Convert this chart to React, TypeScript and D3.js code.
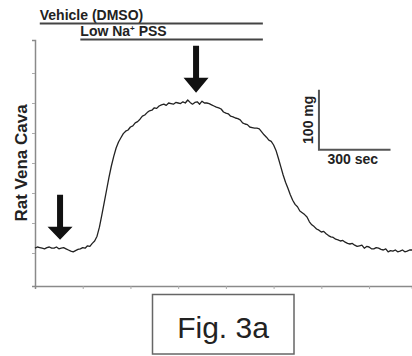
import React from "react";
import { select, scaleLinear, line, axisLeft, axisBottom, range } from "d3";

// time in seconds, tension in mg, every 10 s
const times = range(0, 1581, 10);
const tension = [
  58, 60, 59, 58, 57, 59, 60, 58, 58, 60, 57, 58, 59, 57, 55, 53, 52, 54, 56, 57,
  59, 58, 62, 61, 66, 70, 78, 93, 113, 134, 155, 176, 195, 211, 225, 235, 242, 249, 253, 255,
  260, 262, 267, 269, 273, 278, 280, 284, 287, 288, 292, 291, 295, 297, 298, 296, 300, 299, 298, 301,
  300, 299, 302, 300, 305, 301, 298, 301, 302, 298, 303, 300, 300, 299, 297, 295, 293, 292, 290, 285,
  283, 282, 278, 277, 275, 274, 272, 267, 265, 264, 260, 259, 258, 258, 257, 252, 247, 243, 238, 236,
  230, 221, 208, 194, 180, 168, 158, 147, 138, 131, 127, 120, 117, 114, 110, 102, 97, 94, 90, 88,
  85, 86, 82, 79, 77, 76, 73, 72, 70, 71, 68, 66, 65, 66, 63, 61, 62, 63, 58, 61,
  60, 57, 57, 59, 58, 56, 55, 57, 52, 54, 53, 55, 52, 53, 55, 52, 53, 55, 55,
];

const xTicks = [200, 400, 600, 800, 1000, 1200, 1400];
const yTicks = [50, 100, 150, 200, 250, 300, 350];

const treatments = [
  { label: "Vehicle (DMSO)", start: 20, end: 955 },
  { label: "Low Na", sup: "+", rest: " PSS", start: 190, end: 955 },
];

const arrows = [
  { t: 105, mg: 72, len: 45, head: 13 },
  { t: 675, mg: 317, len: 47, head: 15 },
];

const scaleBar = { t: 1190, mg: 222, dt: 300, dmg: 100 };

const W = 412;
const H = 356;
const margin = { top: 40, right: 0, bottom: 70, left: 35 };

export default function App() {
  const svgRef = React.useRef(null);

  React.useLayoutEffect(() => {
    const svg = select(svgRef.current);
    const font = "Liberation Sans, Arial, sans-serif";

    const x = scaleLinear().domain([0, 1580]).range([margin.left, W - margin.right]);
    const y = scaleLinear().domain([-5, 405]).range([H - margin.bottom, margin.top]);

    // axes
    const gx = svg
      .append("g")
      .attr("transform", `translate(0,${y(-5)})`)
      .call(axisBottom(x).tickValues(xTicks).tickSize(3).tickFormat(() => ""));
    const gy = svg
      .append("g")
      .attr("transform", `translate(${x(0)},0)`)
      .call(axisLeft(y).tickValues(yTicks).tickSize(3).tickFormat(() => ""));
    [gx, gy].forEach((g) => {
      g.select(".domain").attr("stroke", "#8a8a8a").attr("stroke-width", 1.5);
      g.selectAll(".tick line").attr("stroke", "#aaa");
    });

    // trace
    const pts = times.map((t, i) => [t, tension[i]] as [number, number]);
    svg
      .append("path")
      .attr("d", line().x((d) => x(d[0])).y((d) => y(d[1]))(pts))
      .attr("fill", "none")
      .attr("stroke", "#222")
      .attr("stroke-width", 1.3)
      .attr("stroke-linejoin", "round");

    // arrows
    arrows.forEach((a) => {
      const cx = x(a.t);
      const ty = y(a.mg);
      const p = [
        [cx - 3, ty - a.len],
        [cx + 3, ty - a.len],
        [cx + 3, ty - a.head],
        [cx + 12.5, ty - a.head],
        [cx, ty],
        [cx - 12.5, ty - a.head],
        [cx - 3, ty - a.head],
      ];
      svg.append("polygon").attr("points", p.map((q) => q.join(",")).join(" ")).attr("fill", "#111");
    });

    // treatment bars
    treatments.forEach((tr, i) => {
      const base = 20 + i * 16;
      const t = svg
        .append("text")
        .attr("x", x(tr.start))
        .attr("y", base)
        .attr("font-family", font)
        .attr("font-weight", "bold")
        .attr("font-size", 14)
        .attr("fill", "#222");
      t.append("tspan").text(tr.label);
      if (tr.sup) {
        t.append("tspan").attr("font-size", 8).attr("dy", -5).text(tr.sup);
        t.append("tspan").attr("dy", 5).text(tr.rest);
      }
      svg
        .append("line")
        .attr("x1", x(tr.start))
        .attr("x2", x(tr.end))
        .attr("y1", base + 3.5)
        .attr("y2", base + 3.5)
        .attr("stroke", "#444")
        .attr("stroke-width", 2);
    });

    // scale bar
    const sx0 = x(scaleBar.t);
    const sx1 = x(scaleBar.t + scaleBar.dt);
    const sy0 = y(scaleBar.mg);
    const sy1 = y(scaleBar.mg + scaleBar.dmg);
    svg
      .append("path")
      .attr("d", `M${sx0},${sy1}V${sy0}H${sx1}`)
      .attr("fill", "none")
      .attr("stroke", "#555")
      .attr("stroke-width", 2);
    svg
      .append("text")
      .attr("x", (sx0 + sx1) / 2 - 2)
      .attr("y", sy0 + 14)
      .attr("text-anchor", "middle")
      .attr("font-family", font)
      .attr("font-weight", "bold")
      .attr("font-size", 14)
      .attr("fill", "#222")
      .text(`${scaleBar.dt} sec`);
    svg
      .append("text")
      .attr("transform", `translate(${sx0 - 6},${(sy0 + sy1) / 2}) rotate(-90)`)
      .attr("text-anchor", "middle")
      .attr("font-family", font)
      .attr("font-weight", "bold")
      .attr("font-size", 14)
      .attr("fill", "#222")
      .text(`${scaleBar.dmg} mg`);

    // y label
    svg
      .append("text")
      .attr("transform", `translate(27,163) rotate(-90)`)
      .attr("text-anchor", "middle")
      .attr("font-family", font)
      .attr("font-weight", "bold")
      .attr("font-size", 17)
      .attr("fill", "#222")
      .text("Rat Vena Cava");

    // figure caption box
    svg
      .append("rect")
      .attr("x", 152.5)
      .attr("y", 294.5)
      .attr("width", 141.5)
      .attr("height", 59.5)
      .attr("fill", "none")
      .attr("stroke", "#666")
      .attr("stroke-width", 1.5);
    svg
      .append("text")
      .attr("x", 223)
      .attr("y", 338)
      .attr("text-anchor", "middle")
      .attr("font-family", font)
      .attr("font-size", 30)
      .attr("fill", "#222")
      .text("Fig. 3a");

    return () => {
      svg.selectAll("*").remove();
    };
  }, []);

  return (
    <svg
      ref={svgRef}
      width={W}
      height={H}
      style={{ position: "absolute", left: 0, top: 0, background: "#fff" }}
    />
  );
}
